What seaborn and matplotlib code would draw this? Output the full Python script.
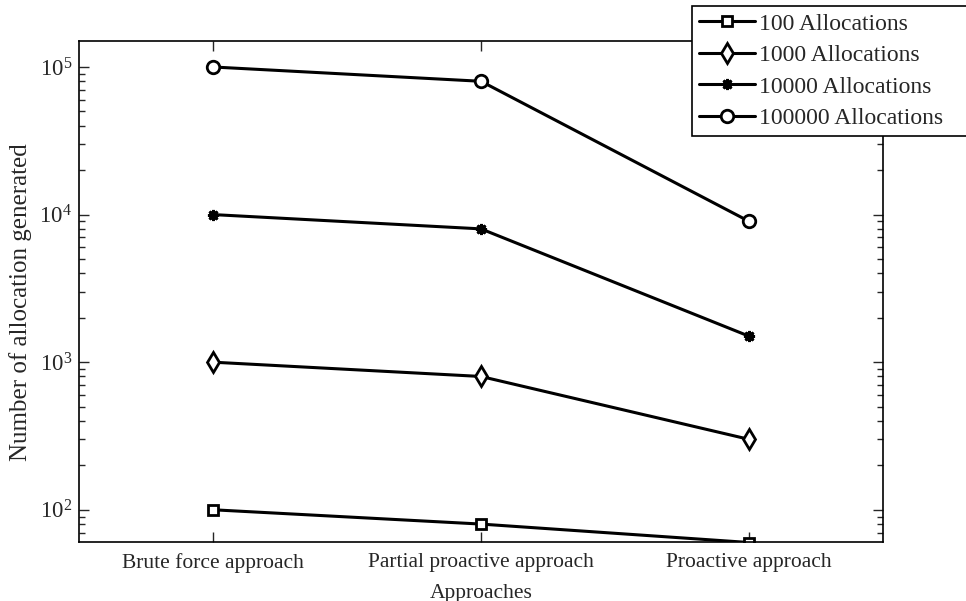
import matplotlib
matplotlib.use("Agg")
import matplotlib.pyplot as plt
import seaborn as sns
import pandas as pd
from matplotlib.ticker import LogLocator, NullFormatter

categories = ["Brute force approach", "Partial proactive approach", "Proactive approach"]
series_names = ["100 Allocations", "1000 Allocations", "10000 Allocations", "100000 Allocations"]
vals_100 = [100, 80, 60]
vals_1000 = [1000, 800, 300]
vals_10000 = [10000, 8000, 1500]
vals_100000 = [100000, 80000, 9000]

sns.set_style("ticks")
plt.rcParams["font.family"] = ["Liberation Serif", "DejaVu Serif"]
plt.rcParams["mathtext.fontset"] = "custom"
plt.rcParams["mathtext.rm"] = "Liberation Serif"
plt.rcParams["mathtext.it"] = "Liberation Serif:italic"
plt.rcParams["mathtext.bf"] = "Liberation Serif:bold"

fig = plt.figure(figsize=(9.66, 6.01), dpi=100)
ax = fig.add_axes([0.0818, 0.0982, 0.8323, 0.8336])

marker_list = ["s", "d", (8, 2, 0), "o"]
size_list = [7, 10, 8, 9]

for name, vals, mk, ms in zip(series_names, [vals_100, vals_1000, vals_10000, vals_100000],
                              marker_list, size_list):
    d = pd.DataFrame({"Approach": categories, "Value": vals})
    sns.lineplot(data=d, x="Approach", y="Value", ax=ax, color="black",
                 marker=mk, markersize=ms, markerfacecolor="white",
                 markeredgecolor="black", markeredgewidth=2, linewidth=2.2,
                 sort=False, label=name)

ax.set_yscale("log")
ax.set_ylim(60.5, 150000)
ax.set_xlim(-0.5, 2.5)
ax.yaxis.set_minor_locator(LogLocator(base=10, subs=range(2, 10)))
ax.yaxis.set_minor_formatter(NullFormatter())
ax.tick_params(axis="both", which="both", direction="in", top=True, right=True, width=1)
ax.tick_params(axis="both", which="major", length=7)
ax.tick_params(axis="y", which="minor", length=4)
ax.tick_params(axis="x", which="major", labelsize=15.5, pad=8)
ax.tick_params(axis="y", which="major", labelsize=16.5, pad=5)
for sp in ax.spines.values():
    sp.set_linewidth(1.2)
    sp.set_color("black")

ax.set_xlabel("Approaches", fontsize=15.5)
ax.set_ylabel("Number of allocation generated", fontsize=18)
ax.xaxis.set_label_coords(0.5, -0.083)
ax.yaxis.set_label_coords(-0.058, 0.479)

handles, labels = ax.get_legend_handles_labels()
if ax.get_legend() is not None:
    ax.get_legend().remove()
leg = fig.legend(handles, labels, loc="upper left",
                 bbox_to_anchor=(692 / 966, 0.99, (985 - 692) / 966, 0.0),
                 mode="expand", fontsize=17, frameon=True, fancybox=False,
                 edgecolor="black", handlelength=2.37, borderpad=0.3,
                 labelspacing=0.42, handletextpad=0.15, borderaxespad=0.0)
leg.get_frame().set_linewidth(1.2)
leg.get_frame().set_alpha(1)

fig.savefig("out.png", dpi=100, facecolor="white")
